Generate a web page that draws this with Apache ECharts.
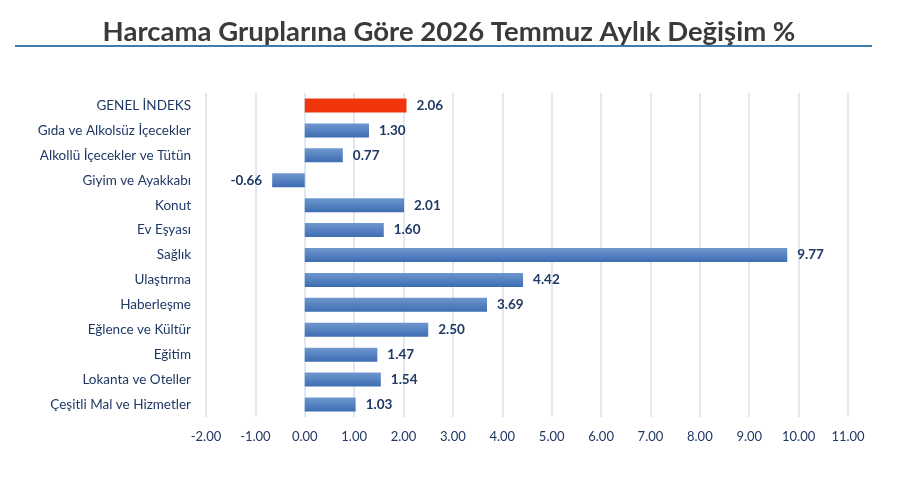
<!DOCTYPE html>
<html>
  <head>
    <meta charset="utf-8" />
    <title>Harcama Grupları Temmuz</title>
    <script src="https://cdn.jsdelivr.net/npm/echarts@6/dist/echarts.min.js"></script>
    <style>
      html, body { margin: 0; padding: 0; background: #fff; }
    </style>
  </head>
  <body>
    <div id="main" style="width: 915px; height: 478px"></div>

    <script type="text/javascript">
      var categories = [
        "GENEL İNDEKS",
        "Gıda ve Alkolsüz İçecekler",
        "Alkollü İçecekler ve Tütün",
        "Giyim ve Ayakkabı",
        "Konut",
        "Ev Eşyası",
        "Sağlık",
        "Ulaştırma",
        "Haberleşme",
        "Eğlence ve Kültür",
        "Eğitim",
        "Lokanta ve Oteller",
        "Çeşitli Mal ve Hizmetler",
      ];
      var values = [2.06, 1.3, 0.77, -0.66, 2.01, 1.6, 9.77, 4.42, 3.69, 2.5, 1.47, 1.54, 1.03];

      var navy = "#1F3864";
      var blueBar = new echarts.graphic.LinearGradient(0, 0, 0, 1, [
        { offset: 0, color: "#6F97CF" },
        { offset: 1, color: "#3D6DB2" },
      ]);

      var myChart = echarts.init(document.getElementById("main"));
      var option = {
        animation: false,
        title: {
          text: "Harcama Gruplarına Göre 2026 Temmuz Aylık Değişim %",
          left: 444,
          textAlign: "center",
          top: 13,
          textStyle: {
            fontFamily: "Lato",
            fontWeight: "bold",
            fontSize: 27.5,
            color: "#3A3A3A",
          },
        },
        graphic: [
          {
            type: "rect",
            shape: { x: 15, y: 45, width: 857, height: 2 },
            style: { fill: "#3A7EAA" },
          },
        ],
        grid: { left: 206, right: 67, top: 93, height: 324 },
        xAxis: {
          type: "value",
          min: -2,
          max: 11,
          interval: 1,
          axisLine: { show: false },
          axisTick: { show: false },
          splitLine: { lineStyle: { color: "#D6E0EE", width: 1.5 } },
          axisLabel: {
            color: navy,
            fontFamily: "Lato",
            fontSize: 13,
            margin: 13,
            formatter: function (v) { return v.toFixed(2); },
          },
        },
        yAxis: {
          type: "category",
          inverse: true,
          data: categories,
          axisLine: { show: false },
          axisTick: { show: false },
          axisLabel: {
            color: navy,
            fontFamily: "Lato",
            fontSize: 13.5,
            margin: 15,
          },
        },
        series: [
          {
            type: "bar",
            barWidth: 14,
            data: values.map(function (v, i) {
              return {
                value: v,
                itemStyle: { color: i === 0 ? "#F2360C" : blueBar },
                label: { position: v < 0 ? "left" : "right" },
              };
            }),
            label: {
              show: true,
              position: "right",
              distance: 10,
              color: navy,
              fontFamily: "Lato",
              fontWeight: "bold",
              fontSize: 13.5,
              formatter: function (p) { return p.value.toFixed(2); },
            },
          },
        ],
      };
      myChart.setOption(option);
    </script>
  </body>
</html>
